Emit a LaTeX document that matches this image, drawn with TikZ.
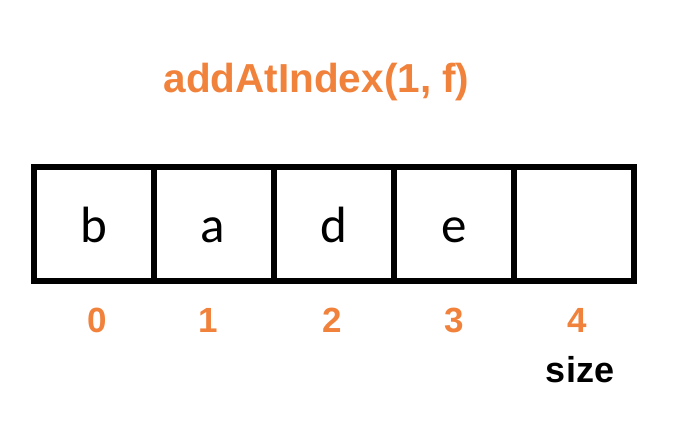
\documentclass[tikz,border=0pt]{standalone}
\usepackage{fontspec}
\setmainfont{Liberation Sans}
\newfontfamily\cellfont{Carlito}
\definecolor{idxorange}{RGB}{240,130,60}
\begin{document}
\begin{tikzpicture}[x=1pt,y=-1pt,
  cell/.style={draw=black,line width=5.5pt,minimum width=120pt,minimum height=114pt,inner sep=0pt},
  letter/.style={anchor=base,inner sep=0pt,font=\cellfont\fontsize{51}{51}\selectfont},
  idx/.style={anchor=base,inner sep=0pt,text=idxorange,font=\bfseries\fontsize{35}{35}\selectfont},
  title/.style={anchor=base,inner sep=0pt,text=idxorange,font=\bfseries\fontsize{40.5}{40.5}\selectfont}]
\useasboundingbox (0,0) rectangle (696,422);
\node[title] (t) at (316.5,93) {addAtIndex(1, f)};
\node[cell] (c0) at (94,224) {};
\node[cell] (c1) at (214,224) {};
\node[cell] (c2) at (334,224) {};
\node[cell] (c3) at (454,224) {};
\node[cell] (c4) at (574,224) {};
\node[letter] (l0) at (94,242) {b};
\node[letter] (l1) at (212.5,242) {a};
\node[letter] (l2) at (334,242) {d};
\node[letter] (l3) at (454,242) {e};
\node[idx] (i0) at (97,332) {0};
\node[idx] (i1) at (208,332) {1};
\node[idx] (i2) at (332,332) {2};
\node[idx] (i3) at (454,332) {3};
\node[idx] (i4) at (577,332) {4};
\node[anchor=base,inner sep=0pt,font=\bfseries\fontsize{36}{36}\selectfont] (sz) at (580,382) {size};
\end{tikzpicture}
\end{document}
